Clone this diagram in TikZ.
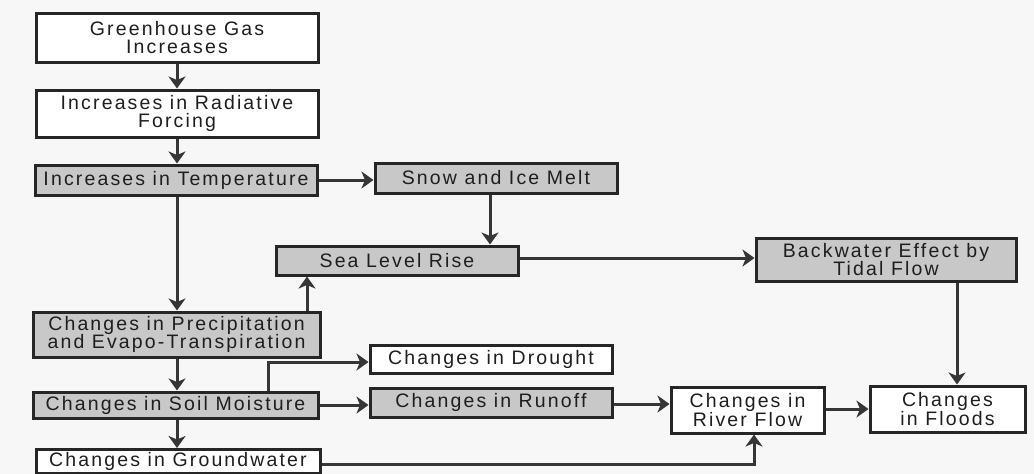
\documentclass[tikz,border=0pt]{standalone}
\usepackage{fontspec}
\setmainfont{Liberation Sans}[LetterSpace=11]
\usetikzlibrary{arrows.meta}
\definecolor{boxline}{HTML}{262626}
\definecolor{boxgray}{HTML}{C8C8C8}
\definecolor{arrc}{HTML}{363636}
\definecolor{textc}{HTML}{1E1E1E}
\definecolor{bgc}{HTML}{F7F7F7}
\begin{document}
\begin{tikzpicture}[x=1pt,y=-1pt,
  box/.style={draw=boxline, line width=3pt, fill=white, inner sep=0pt, align=center,
    font=\fontsize{19.5}{18.5}\selectfont, text=textc},
  gbox/.style={box, fill=boxgray},
  arr/.style={draw=arrc, line width=3pt, -{Stealth[length=12pt,width=17pt,inset=3.5pt]}}]
\useasboundingbox (0,0) rectangle (1034,474);
\fill[bgc] (0,0) rectangle (1034,474);
% nodes
\node[box,  minimum width=282pt, minimum height=49pt] (gh) at (177,37.5) {Greenhouse Gas\\Increases};
\node[box,  minimum width=282pt, minimum height=47pt] (rf) at (177,113.5) {Increases in Radiative\\Forcing};
\node[gbox, minimum width=282pt, minimum height=30pt] (temp) at (176,180) {Increases in Temperature};
\node[gbox, minimum width=242pt, minimum height=30pt] (snow) at (496,178) {Snow and Ice Melt};
\node[gbox, minimum width=242pt, minimum height=29pt] (sea) at (397,260.5) {Sea Level Rise};
\node[gbox, minimum width=260pt, minimum height=43pt] (back) at (886,259.5) {Backwater Effect by\\Tidal Flow};
\node[gbox, minimum width=287pt, minimum height=45pt] (precip) at (176.5,334.5) {Changes in Precipitation\\and Evapo-Transpiration};
\node[gbox, minimum width=285pt, minimum height=26pt] (soil) at (175.5,405) {Changes in Soil Moisture};
\node[box,  minimum width=242pt, minimum height=28pt] (drought) at (491,359) {Changes in Drought};
\node[gbox, minimum width=242pt, minimum height=29pt] (runoff) at (491,402.5) {Changes in Runoff};
\node[box,  minimum width=153pt, minimum height=46pt] (river) at (747.5,410) {Changes in\\River Flow};
\node[box,  minimum width=155pt, minimum height=46pt] (floods) at (947.5,409) {Changes\\in Floods};
\node[box,  minimum width=284pt, minimum height=24pt] (gw) at (178,461.5) {Changes in Groundwater};
% helper coordinates
\coordinate (xtrunk) at (177,0);
\coordinate (xsnow) at (490,0);
\coordinate (xsea) at (307,0);
\coordinate (xback) at (957,0);
\coordinate (xdr) at (268,362);
\coordinate (ysea) at (0,258);
\coordinate (yrun) at (0,405);
\coordinate (yriv) at (0,404);
\coordinate (yfl) at (0,409);
\coordinate (gwc) at (754,464);
\coordinate (ytemp) at (0,180);
% connectors
\draw[arr] (gh.south -| xtrunk) -- (rf.north -| xtrunk);
\draw[arr] (rf.south -| xtrunk) -- (temp.north -| xtrunk);
\draw[arr] (temp.south -| xtrunk) -- (precip.north -| xtrunk);
\draw[arr] (precip.south -| xtrunk) -- (soil.north -| xtrunk);
\draw[arr] (soil.south -| xtrunk) -- (gw.north -| xtrunk);
\draw[arr] (temp.east |- ytemp) -- (snow.west |- ytemp);
\draw[arr] (snow.south -| xsnow) -- (sea.north -| xsnow);
\draw[arr] (precip.north -| xsea) -- (sea.south -| xsea);
\draw[arr] (sea.east |- ysea) -- (back.west |- ysea);
\draw[arr] (back.south -| xback) -- (floods.north -| xback);
\draw[arr] (soil.north -| xdr) -- (xdr) -- (drought.west |- xdr);
\draw[arr] (soil.east |- yrun) -- (runoff.west |- yrun);
\draw[arr] (runoff.east |- yriv) -- (river.west |- yriv);
\draw[arr] (river.east |- yfl) -- (floods.west |- yfl);
\draw[arr] (gw.east |- gwc) -- (gwc) -- (river.south -| gwc);
\end{tikzpicture}
\end{document}
